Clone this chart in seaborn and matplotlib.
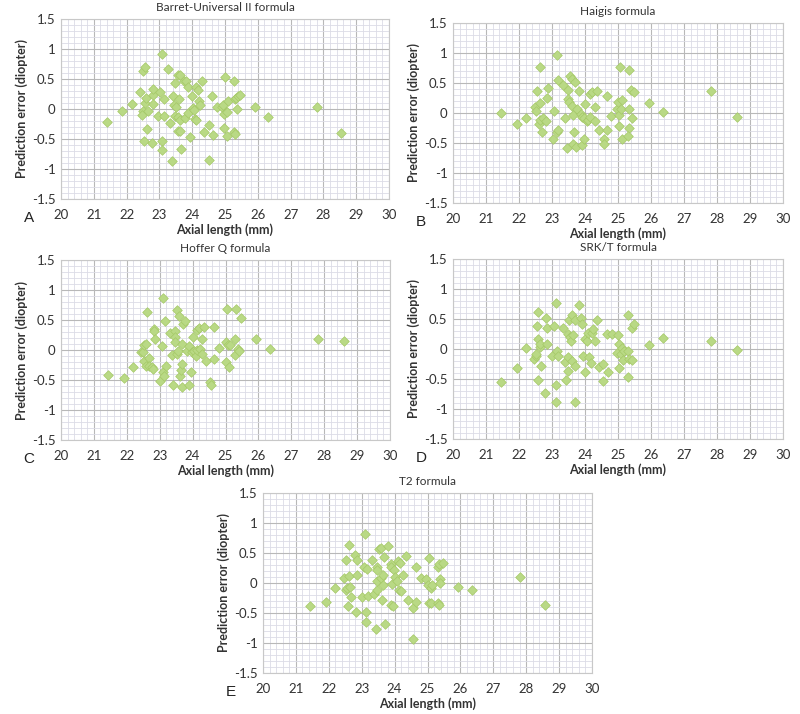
import matplotlib
matplotlib.use("Agg")
import matplotlib.pyplot as plt
from matplotlib.ticker import MultipleLocator, FuncFormatter
import pandas as pd
import seaborn as sns

sns.set_theme(style="white")
plt.rcParams["font.family"] = ["Lato", "DejaVu Sans"]

# ---- data (axial length mm, prediction error D) ----
a_x = [21.39, 21.87, 22.16, 22.41, 22.50, 22.56, 22.50, 22.48, 22.56, 22.58, 22.64, 22.63,
       22.53, 22.78, 22.79, 22.81, 22.82, 23.01, 22.97, 23.08, 23.13, 23.09, 23.08, 23.15,
       23.26, 23.33, 23.38, 23.41, 23.43, 23.48, 23.47, 23.50, 23.56, 23.64, 23.57, 23.63,
       23.60, 23.58, 23.64, 23.65, 23.74, 23.81, 23.78, 23.87, 23.88, 23.92, 23.98, 24.02,
       24.05, 24.08, 24.12, 24.12, 24.19, 24.22, 24.23, 24.31, 24.37, 24.50, 24.51, 24.60,
       24.63, 24.75, 24.90, 24.93, 24.98, 24.97, 25.00, 25.07, 25.07, 25.08, 25.27, 25.27,
       25.30, 25.30, 25.34, 25.37, 25.40, 25.45, 25.91, 26.31, 27.79, 28.55]
a_y = [-0.22, -0.04, 0.09, 0.28, 0.64, 0.70, -0.03, -0.10, 0.10, 0.19, -0.03, -0.34,
       -0.54, -0.57, 0.23, 0.33, 0.09, 0.28, -0.11, 0.91, 0.17, -0.54, -0.68, -0.11,
       0.67, -0.23, -0.86, 0.21, 0.07, 0.43, -0.12, 0.03, 0.57, 0.57, -0.37, -0.36,
       0.17, -0.13, -0.18, -0.66, 0.46, 0.46, -0.15, 0.36, -0.07, -0.47, 0.21, 0.02,
       -0.01, -0.16, -0.18, 0.37, 0.32, 0.13, 0.07, 0.47, -0.38, -0.27, -0.85, 0.22,
       -0.43, 0.03, 0.03, 0.07, -0.31, -0.09, 0.53, -0.45, -0.05, 0.14, 0.46, -0.39,
       -0.41, 0.17, 0.19, 0.00, 0.22, 0.24, 0.04, -0.13, 0.03, -0.40]

b_x = [21.44, 21.94, 22.22, 22.63, 22.55, 22.48, 22.53, 22.63, 22.60, 22.65, 22.70, 22.73,
       22.82, 22.87, 22.86, 23.03, 23.07, 23.15, 23.19, 23.15, 23.19, 23.34, 23.39, 23.45,
       23.49, 23.48, 23.52, 23.54, 23.60, 23.62, 23.64, 23.65, 23.70, 23.68, 23.73, 23.77,
       23.82, 23.88, 23.92, 23.91, 23.96, 23.98, 24.01, 24.06, 24.10, 24.14, 24.16, 24.22,
       24.30, 24.30, 24.36, 24.42, 24.57, 24.57, 24.67, 24.67, 24.80, 24.97, 25.00, 25.02,
       25.04, 25.05, 25.10, 25.13, 25.12, 25.32, 25.32, 25.32, 25.31, 25.39, 25.42, 25.47,
       25.93, 26.36, 27.82, 28.61]
b_y = [0.00, -0.19, -0.09, 0.77, 0.37, 0.10, 0.04, 0.17, -0.19, -0.12, -0.31, -0.09,
       -0.14, 0.42, 0.25, -0.44, 0.04, 0.97, 0.55, -0.32, -0.29, 0.46, -0.08, -0.59,
       0.38, 0.24, 0.18, 0.61, 0.57, 0.12, -0.04, -0.52, 0.52, -0.31, -0.56, 0.06,
       0.36, -0.01, -0.06, -0.54, -0.44, -0.08, 0.15, -0.13, -0.11, 0.32, -0.06, 0.35,
       0.10, -0.14, 0.37, -0.29, -0.43, -0.51, 0.29, -0.29, -0.05, 0.07, 0.19, -0.03,
       -0.21, 0.76, 0.07, 0.21, -0.43, 0.72, 0.06, -0.25, -0.39, 0.39, -0.09, 0.35,
       0.17, 0.01, 0.36, -0.07]

c_x = [21.42, 21.91, 22.20, 22.43, 22.50, 22.53, 22.58, 22.60, 22.52, 22.58, 22.68, 22.66,
       22.76, 22.81, 22.82, 22.84, 22.86, 23.01, 23.06, 23.11, 23.11, 23.13, 23.17, 23.18,
       23.31, 23.36, 23.41, 23.46, 23.48, 23.52, 23.48, 23.52, 23.57, 23.59, 23.62, 23.65,
       23.67, 23.68, 23.67, 23.70, 23.78, 23.84, 23.88, 23.90, 23.94, 23.97, 24.00, 24.04,
       24.10, 24.12, 24.14, 24.20, 24.24, 24.28, 24.28, 24.35, 24.41, 24.54, 24.55, 24.66,
       24.65, 24.79, 25.00, 25.04, 25.00, 25.07, 25.11, 25.13, 25.30, 25.31, 25.30, 25.38,
       25.41, 25.47, 25.94, 26.36, 27.82, 28.60]
c_y = [-0.42, -0.46, -0.29, -0.04, -0.04, 0.09, 0.10, 0.63, -0.19, -0.27, -0.14, -0.27,
       -0.28, -0.32, 0.35, 0.32, 0.18, -0.52, 0.07, 0.86, -0.36, -0.44, 0.48, -0.26,
       0.29, -0.08, -0.58, 0.32, 0.22, 0.67, 0.13, -0.07, -0.01, 0.57, -0.43, -0.33,
       -0.23, 0.10, -0.61, 0.43, 0.48, -0.01, -0.58, 0.06, -0.37, -0.03, 0.21, -0.01,
       -0.10, 0.34, 0.00, 0.37, 0.02, 0.19, -0.07, 0.39, -0.18, -0.53, -0.59, 0.38,
       -0.15, 0.03, 0.13, 0.69, -0.20, 0.08, -0.29, 0.09, 0.18, 0.68, -0.08, 0.01,
       -0.02, 0.53, 0.18, 0.02, 0.18, 0.15]

d_x = [21.44, 21.93, 22.21, 22.46, 22.51, 22.53, 22.54, 22.59, 22.59, 22.63, 22.65, 22.58,
       22.68, 22.80, 22.83, 22.85, 22.86, 22.99, 23.05, 23.12, 23.13, 23.13, 23.16, 23.19,
       23.32, 23.38, 23.43, 23.47, 23.49, 23.48, 23.52, 23.54, 23.57, 23.60, 23.62, 23.65,
       23.69, 23.71, 23.69, 23.82, 23.88, 23.93, 23.91, 23.99, 24.01, 24.07, 24.10, 24.12,
       24.17, 24.20, 24.25, 24.30, 24.35, 24.42, 24.56, 24.56, 24.66, 24.69, 24.82, 24.96,
       24.99, 25.02, 25.02, 25.10, 25.13, 25.14, 25.18, 25.29, 25.31, 25.31, 25.34, 25.41,
       25.41, 25.49, 25.95, 26.36, 27.82, 28.60]
d_y = [-0.55, -0.32, 0.02, -0.17, -0.11, -0.08, 0.38, 0.62, 0.16, 0.03, 0.09, -0.52,
       -0.29, -0.73, 0.51, 0.35, 0.09, -0.11, 0.38, 0.77, -0.60, -0.88, -0.04, -0.12,
       0.35, -0.22, -0.51, 0.25, -0.36, -0.14, 0.48, 0.20, 0.14, 0.57, -0.20, 0.23,
       0.48, -0.88, -0.28, 0.73, 0.51, -0.12, 0.42, -0.39, 0.17, 0.14, 0.27, -0.13,
       -0.23, 0.27, 0.33, 0.13, 0.49, -0.30, -0.25, -0.53, 0.25, -0.38, 0.25, -0.06,
       0.23, 0.09, -0.31, -0.09, 0.01, -0.18, -0.04, 0.56, -0.03, -0.46, -0.17, -0.18,
       0.35, 0.42, 0.07, 0.19, 0.14, -0.02]

e_x = [21.43, 21.93, 22.20, 22.45, 22.53, 22.60, 22.52, 22.56, 22.58, 22.61, 22.64, 22.67,
       22.81, 22.83, 22.86, 22.87, 23.01, 23.06, 23.11, 23.13, 23.12, 23.16, 23.19, 23.31,
       23.38, 23.43, 23.47, 23.48, 23.47, 23.48, 23.54, 23.60, 23.59, 23.62, 23.65, 23.65,
       23.69, 23.70, 23.79, 23.88, 23.89, 23.92, 23.89, 23.95, 23.98, 24.02, 24.07, 24.09,
       24.13, 24.17, 24.19, 24.27, 24.34, 24.42, 24.55, 24.55, 24.65, 24.66, 24.79, 24.96,
       25.00, 25.04, 25.04, 25.10, 25.11, 25.13, 25.32, 25.33, 25.34, 25.36, 25.38, 25.39,
       25.46, 25.93, 26.35, 27.82, 28.58]
e_y = [-0.39, -0.31, -0.08, 0.08, 0.39, 0.63, -0.11, -0.08, -0.39, 0.11, -0.07, -0.23,
       0.46, -0.48, 0.38, 0.14, -0.24, 0.26, 0.82, -0.48, -0.65, 0.23, -0.21, 0.39,
       -0.18, -0.76, 0.27, 0.21, -0.11, 0.04, 0.57, 0.58, 0.08, -0.29, 0.14, -0.04,
       0.44, -0.69, 0.61, 0.31, -0.36, -0.02, 0.26, -0.39, 0.21, 0.10, 0.04, 0.37,
       -0.11, 0.34, -0.13, 0.14, 0.45, -0.28, -0.42, -0.94, 0.26, -0.32, 0.08, 0.06,
       -0.04, 0.42, -0.34, -0.09, -0.33, -0.03, -0.34, 0.26, -0.36, 0.32, 0.06, 0.00,
       0.34, -0.07, -0.12, 0.10, -0.36]

titles = ["Barret-Universal II formula", "Haigis formula", "Hoffer Q formula",
          "SRK/T formula", "T2 formula"]
letters = ["A", "B", "C", "D", "E"]
series = [(a_x, a_y), (b_x, b_y), (c_x, c_y), (d_x, d_y), (e_x, e_y)]

# axes rectangles in pixels: left, top, width (height is 180 everywhere)
W, H = 800, 714
boxes = [(61, 19, 328), (453, 23, 330), (61, 260, 329), (453, 259, 330), (263, 493, 329)]

fig = plt.figure(figsize=(W / 100, H / 100), dpi=100)

for (px, py, pw), title, letter, (xs, ys) in zip(boxes, titles, letters, series):
    ax = fig.add_axes([px / W, 1 - (py + 180) / H, pw / W, 180 / H])
    df = pd.DataFrame({"al": xs, "err": ys})
    sns.scatterplot(data=df, x="al", y="err", ax=ax, marker="D", s=24,
                    color="#b9d985", edgecolor="#a5c967", linewidth=0.5, zorder=3)
    ax.set_xlim(20, 30)
    ax.set_ylim(-1.5, 1.5)
    ax.xaxis.set_major_locator(MultipleLocator(1))
    ax.xaxis.set_minor_locator(MultipleLocator(0.2))
    ax.yaxis.set_major_locator(MultipleLocator(0.5))
    ax.yaxis.set_minor_locator(MultipleLocator(0.1))
    ax.yaxis.set_major_formatter(FuncFormatter(lambda v, p: f"{v:g}".replace("\u2212", "-")))
    ax.grid(which="major", color="#b8b8b8", linewidth=0.8, zorder=0)
    ax.grid(which="minor", color="#dcdce6", linewidth=0.6, zorder=0)
    ax.set_axisbelow(True)
    ax.tick_params(which="both", length=0, labelsize=9.5, colors="#333333", pad=4)
    ax.tick_params(axis="x", pad=7)
    for sp in ax.spines.values():
        sp.set_color("#c8c8c8")
        sp.set_linewidth(0.8)
    ax.set_title(title, fontsize=8.5, color="#333333", pad=6)
    ax.set_xlabel("Axial length (mm)", fontsize=9, fontweight="bold", color="#333333", labelpad=2)
    ax.set_ylabel("Prediction error (diopter)", fontsize=9, fontweight="bold", color="#333333",
                  labelpad=3)
    fig.text((px - 32) / W, 1 - (py + 199) / H, letter, fontsize=11, ha="center",
             family=["Liberation Sans", "DejaVu Sans"], color="#222222", va="center")

fig.savefig("out.png", dpi=100)
